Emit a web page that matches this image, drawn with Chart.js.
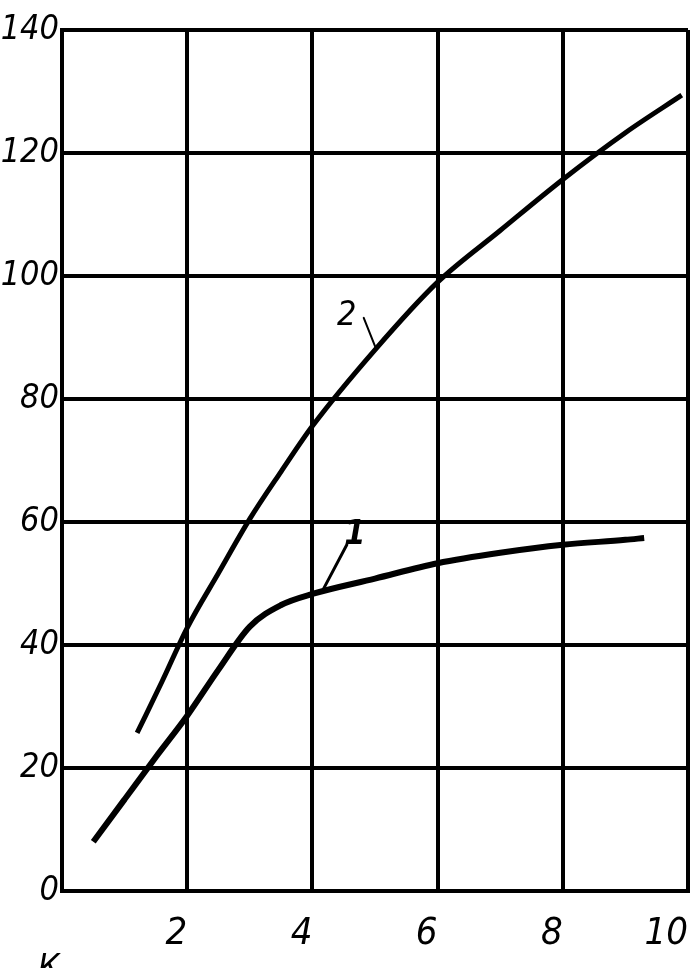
<!DOCTYPE html>
<html>
<head>
<meta charset="utf-8">
<script src="https://cdn.jsdelivr.net/npm/chart.js@4.4.1/dist/chart.umd.min.js"></script>
<style>
  html, body { margin: 0; padding: 0; background: #fff; }
  #wrap { width: 695px; height: 968px; }
</style>
</head>
<body>
<div id="wrap"><canvas id="Plot"></canvas></div>
<script>
// curve 1 (lower one)
const curve1X = [0.5, 1, 1.5, 2, 2.5, 3, 3.5, 4, 5, 6, 7, 8, 9, 9.3]
const curve1Y = [8, 14.9, 21.8, 28.5, 36, 43, 46.5, 48.3, 50.8, 53.3, 55, 56.3, 57.1, 57.4]
// curve 2 (upper one)
const curve2X = [1.2, 1.6, 2, 2.5, 3, 3.5, 4, 5, 6, 7, 8, 9, 9.9]
const curve2Y = [25.7, 34.1, 42.8, 51.7, 60.5, 68.2, 75.6, 88, 99, 107.4, 115.7, 123.3, 129.4]
// axes
const xTicks = [2, 4, 6, 8, 10]
const yTicks = [0, 20, 40, 60, 80, 100, 120, 140]
// curve numbers and their leader lines (data units)
const curveNames = ['1', '2']
const nameAt = [[4.68, 57.8], [4.55, 93.5]]
const leaderFrom = [[4.15, 48.6], [5.0, 88.6]]
const leaderTo = [[4.55, 56.3], [4.82, 93.2]]

const handFont = "'Liberation Sans Narrow', 'DejaVu Sans Condensed', sans-serif"

const toPoints = (xs, ys) => xs.map((x, i) => ({ x: x, y: ys[i] }))

// numbers "1", "2" with the little leader strokes + cut "К" at the bottom
const curveNotes = {
  id: 'curveNotes',
  afterDraw(chart) {
    const ctx = chart.ctx
    const sx = chart.scales.x
    const sy = chart.scales.y
    ctx.save()
    ctx.strokeStyle = '#000'
    ctx.fillStyle = '#000'
    ctx.lineCap = 'round'
    curveNames.forEach(function (name, i) {
      ctx.lineWidth = i === 0 ? 3 : 2
      ctx.beginPath()
      ctx.moveTo(sx.getPixelForValue(leaderFrom[i][0]), sy.getPixelForValue(leaderFrom[i][1]))
      ctx.lineTo(sx.getPixelForValue(leaderTo[i][0]), sy.getPixelForValue(leaderTo[i][1]))
      ctx.stroke()
      ctx.font = (i === 0 ? 'bold ' : '') + 'italic 34px ' + handFont
      ctx.textAlign = 'center'
      ctx.textBaseline = 'middle'
      ctx.fillText(name, sx.getPixelForValue(nameAt[i][0]), sy.getPixelForValue(nameAt[i][1]))
    })
    ctx.font = 'italic 34px ' + handFont
    ctx.textAlign = 'left'
    ctx.textBaseline = 'top'
    ctx.fillText('К', 38, 952)
    ctx.restore()
  }
}

const plotCtx = document.getElementById('Plot')

new Chart(plotCtx, {
  type: 'scatter',
  data: {
    datasets: [
      {
        label: '1',
        data: toPoints(curve1X, curve1Y),
        showLine: true,
        borderColor: '#000',
        borderWidth: 6,
        pointRadius: 0,
        cubicInterpolationMode: 'monotone'
      },
      {
        label: '2',
        data: toPoints(curve2X, curve2Y),
        showLine: true,
        borderColor: '#000',
        borderWidth: 5,
        pointRadius: 0,
        cubicInterpolationMode: 'monotone'
      }
    ]
  },
  options: {
    responsive: true,
    maintainAspectRatio: false,
    animation: false,
    layout: { padding: { top: 30, right: 7, bottom: 0, left: 0 } },
    plugins: {
      legend: { display: false },
      tooltip: { enabled: false }
    },
    scales: {
      x: {
        type: 'linear',
        min: 0,
        max: 10,
        afterBuildTicks: function (axis) {
          axis.ticks = [0].concat(xTicks).map(v => ({ value: v }))
        },
        afterFit: function (axis) {
          axis.height = 77
          axis.paddingLeft = 0
          axis.paddingRight = 0
        },
        grid: { color: '#000', lineWidth: 4, drawTicks: false },
        border: { color: '#000', width: 4 },
        ticks: {
          align: 'end',
          padding: 20,
          color: '#000',
          font: { family: handFont, size: 38, style: 'italic' },
          callback: v => (xTicks.includes(v) ? String(v) : '')
        }
      },
      y: {
        type: 'linear',
        min: 0,
        max: 140,
        afterBuildTicks: function (axis) {
          axis.ticks = yTicks.map(v => ({ value: v }))
        },
        afterFit: function (axis) {
          axis.width = 62
        },
        grid: { color: '#000', lineWidth: 4, drawTicks: false },
        border: { color: '#000', width: 4 },
        ticks: {
          padding: 3,
          color: '#000',
          font: { family: handFont, size: 34, style: 'italic' }
        }
      }
    }
  },
  plugins: [curveNotes]
})
</script>
</body>
</html>
